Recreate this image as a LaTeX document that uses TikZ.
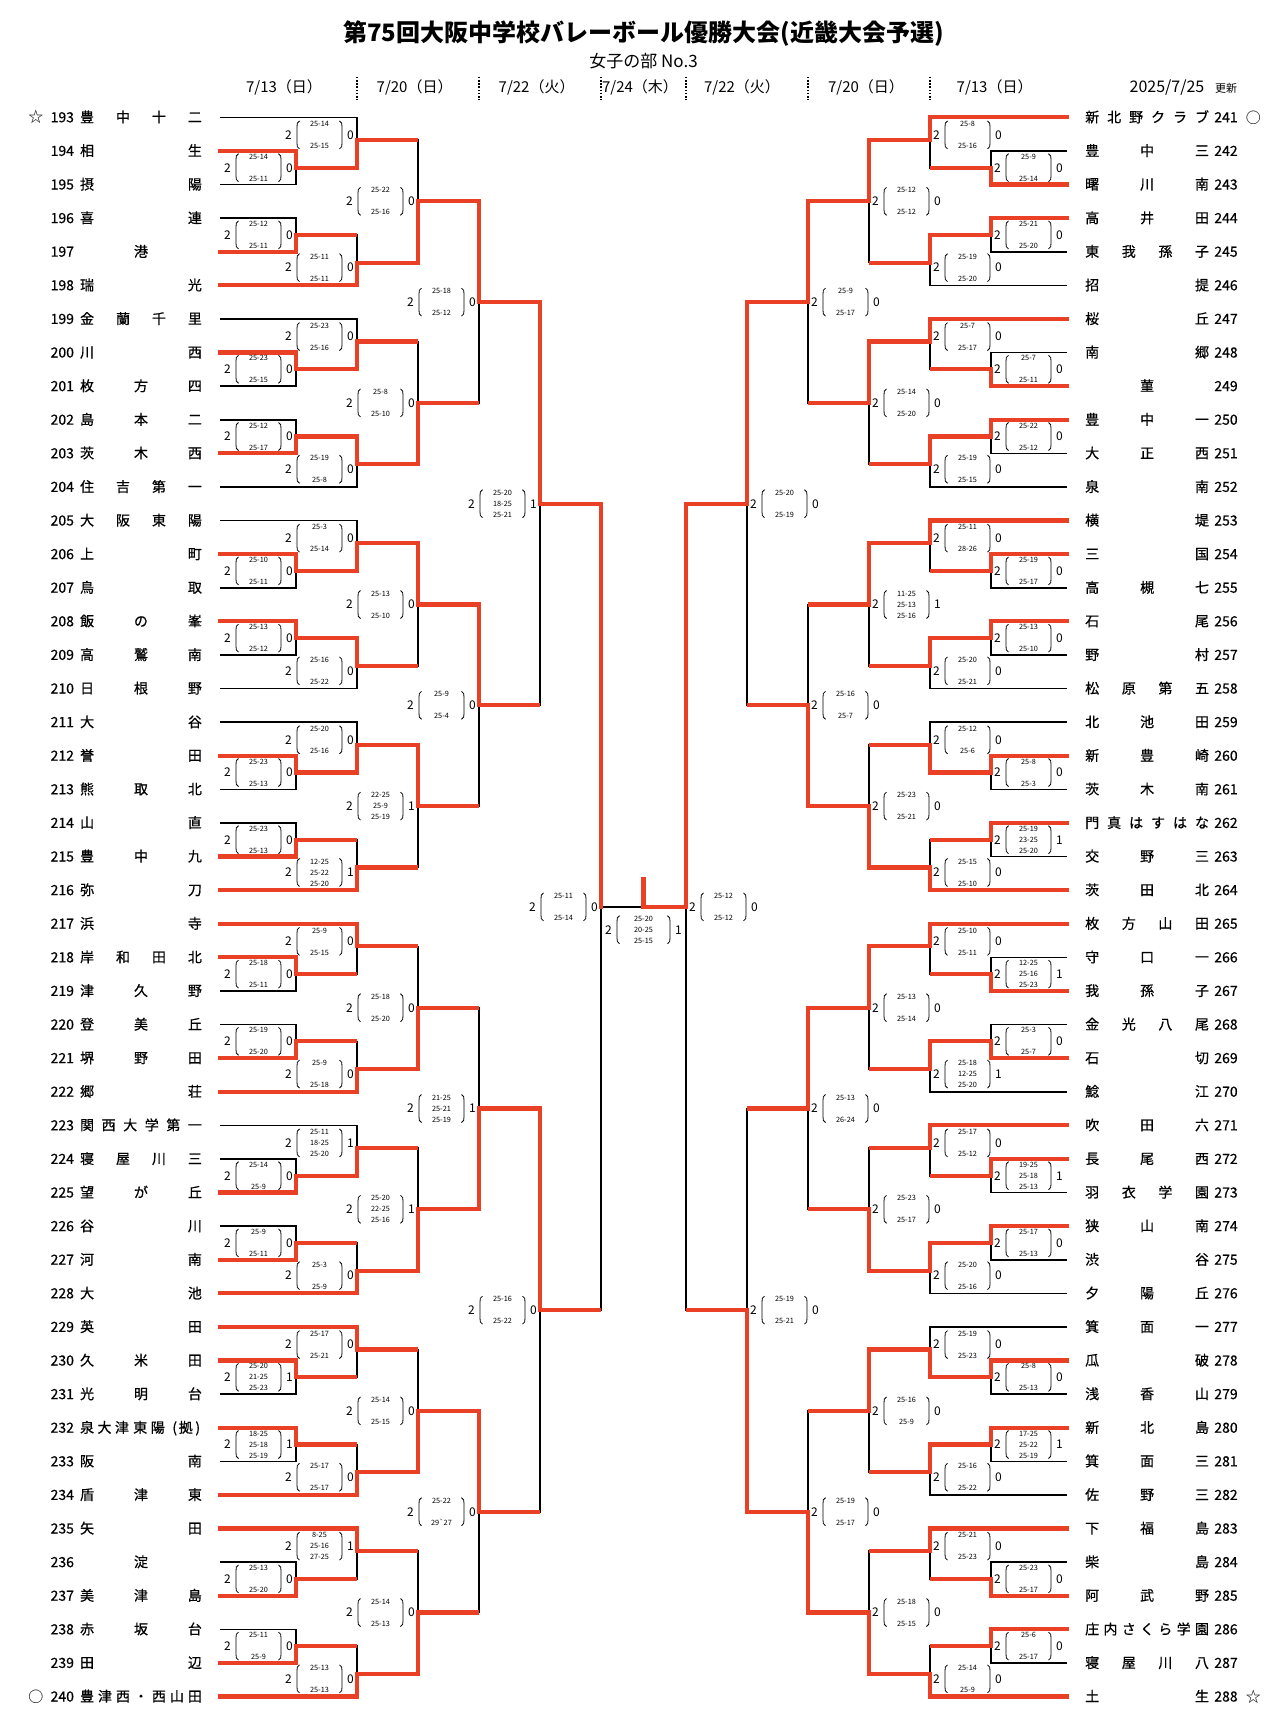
\documentclass[tikz,border=0pt]{standalone}
\usepackage{fontspec}
\setmainfont{Noto Sans CJK JP}
\newfontfamily\nmfont{Noto Sans CJK JP}[FakeBold=0.6]
\definecolor{myred}{RGB}{234,64,38}
\pgfdeclarelayer{bg}
\pgfsetlayers{bg,main}
\newcount\nodeno
\tikzset{
 blk/.style={draw=black, line width=1.6pt},
 redl/.style={draw=myred, line width=4.2pt},
 redw/.style={draw=myred, line width=4.2pt, line cap=rect},
 paren/.style={draw=black, line width=0.8pt},
 nm/.style={inner sep=0pt, font=\nmfont\fontsize{14}{14}\selectfont, text height=11pt, text depth=1pt},
 setn/.style={inner sep=0pt, font=\fontsize{12}{12}\selectfont, text height=8.6pt, text depth=0pt},
 scr/.style={inner sep=0pt, font=\fontsize{7.3}{7.3}\selectfont, text height=5.3pt, text depth=0pt},
 dt/.style={inner sep=0pt, font=\fontsize{15}{15}\selectfont},
 mk/.style={inner sep=0pt, font=\fontsize{15}{15}\selectfont},
 sepl/.style={draw=black, line width=1.6pt, dash pattern=on 1.6pt off 1.6pt},
}
\newcommand\setd[2]{\edef#1{\ifcase#2 423.5\or 347.5\or 286.5\or 225.5\or 164.5\or 103.5\or 42.5\fi}}
% match bracket: side, level, rowA, levelA, rowB, levelB, rowOut, winner
\newcommand\mbr[8]{%
  \setd\dm{#2}\setd\da{#4}\setd\db{#6}%
  \pgfmathsetmacro\xm{643.5-(#1)*\dm}%
  \pgfmathsetmacro\xa{643.5-(#1)*\da}%
  \pgfmathsetmacro\xb{643.5-(#1)*\db}%
  \pgfmathsetmacro\ya{117.3+33.6*(#3)}%
  \pgfmathsetmacro\yb{117.3+33.6*(#5)}%
  \pgfmathsetmacro\yo{117.3+33.6*(#7)}%
  \begin{pgfonlayer}{bg}\draw[blk] (\xa,\ya) -- (\xm,\ya) -- (\xm,\yb) -- (\xb,\yb);\end{pgfonlayer}%
  \ifnum#4>0 \draw[redl] (\xa,\ya) -- (\xm,\ya);\fi
  \ifnum#6>0 \draw[redl] (\xb,\yb) -- (\xm,\yb);\fi
  \ifnum#8=1 \draw[redw] (\xa,\ya) -- (\xm,\ya) -- (\xm,\yo);\else\draw[redw] (\xb,\yb) -- (\xm,\yb) -- (\xm,\yo);\fi
}
% six-team group: side, group index, winners a b c d e
\newcommand\grp[7]{%
  \pgfmathsetmacro\rz{6*#2}%
  \mbr{#1}{1}{\rz+1}{0}{\rz+2}{0}{\rz+1.5}{#3}%
  \mbr{#1}{1}{\rz+3}{0}{\rz+4}{0}{\rz+3.5}{#4}%
  \mbr{#1}{2}{\rz}{0}{\rz+1.5}{1}{\rz+0.675}{#5}%
  \mbr{#1}{2}{\rz+3.5}{1}{\rz+5}{0}{\rz+4.325}{#6}%
  \mbr{#1}{3}{\rz+0.675}{2}{\rz+4.325}{2}{\rz+2.5}{#7}%
}
% score label: side, level, row, line1, line2, line3, loser sets
\newcommand\lab[7]{%
  \setd\dm{#2}%
  \pgfmathsetmacro\xt{643.5-(#1)*(\dm+37.5)}%
  \pgfmathsetmacro\yy{117.3+33.6*(#3)}%
  \global\advance\nodeno by 1
  \node[setn] (w\the\nodeno) at (\xt-31,\yy) {2};
  \node[setn] (l\the\nodeno) at (\xt+31,\yy) {#7};
  \draw[paren] (\xt-20,\yy-14) .. controls (\xt-22.5,\yy-13) and (\xt-22.5,\yy-11) .. (\xt-22.5,\yy-8) -- (\xt-22.5,\yy+8) .. controls (\xt-22.5,\yy+11) and (\xt-22.5,\yy+13) .. (\xt-20,\yy+14);
  \draw[paren] (\xt+20,\yy-14) .. controls (\xt+22.5,\yy-13) and (\xt+22.5,\yy-11) .. (\xt+22.5,\yy-8) -- (\xt+22.5,\yy+8) .. controls (\xt+22.5,\yy+11) and (\xt+22.5,\yy+13) .. (\xt+20,\yy+14);
  \node[scr] (s\the\nodeno a) at (\xt,\yy-11) {#4};
  \if\relax\detokenize{#5}\relax\else\node[scr] (s\the\nodeno b) at (\xt,\yy) {#5};\fi
  \node[scr] (s\the\nodeno c) at (\xt,\yy+11) {#6};
}
\newcommand\glab[7]{%
  \ifcase#3\or\def\lvlx{1}\def\offx{1.5}\or\def\lvlx{1}\def\offx{3.5}\or\def\lvlx{2}\def\offx{0.525}\or\def\lvlx{2}\def\offx{4.475}\or\def\lvlx{3}\def\offx{2.5}\fi
  \lab{#1}{\lvlx}{6*#2+\offx}{#4}{#5}{#6}{#7}}
% distributed team name: x first, x last, row, count, chars
\newcommand\tname[5]{%
  \pgfmathsetmacro\ty{117.3+33.6*(#3)}%
  \foreach \chr [count=\i] in {#5} {%
    \ifnum#4=1 \pgfmathsetmacro\tx{(#1+#2)/2}\else\pgfmathsetmacro\tx{#1+(\i-1)*(#2-#1)/(#4-1)}\fi
    \node[nm] (t#3-\i) at (\tx,\ty) {\chr};
  }}
\newcommand\teamL[3]{%
  \pgfmathsetmacro\ty{117.3+33.6*(#1-193)}%
  \node[nm] (n#1) at (62.3,\ty) {#1};
  \tname{87.1}{194.9}{#1-193}{#2}{#3}}
\newcommand\teamR[3]{%
  \pgfmathsetmacro\ty{117.3+33.6*(#1-241)}%
  \node[nm] (n#1) at (1226,\ty) {#1};
  \tname{1092.2}{1202}{#1-241}{#2}{#3}}
\begin{document}
\begin{tikzpicture}[x=1pt,y=-1pt]
\begin{pgfonlayer}{bg}\fill[white] (0,0) rectangle (1279,1724);\end{pgfonlayer}
\useasboundingbox (0,0) rectangle (1279,1724);
% heading
\node[inner sep=0pt, font=\fontsize{24}{24}\selectfont\bfseries] (title) at (643.5,33.3) {第75回大阪中学校バレーボール優勝大会(近畿大会予選)};
\node[inner sep=0pt, font=\fontsize{17}{17}\selectfont] (sub) at (643.5,61) {女子の部 No.3};
\node[dt] (d1) at (284,87.5) {7/13（日）};
\node[dt] (d2) at (414.6,87.5) {7/20（日）};
\node[dt] (d3) at (536.6,87.5) {7/22（火）};
\node[dt] (d4) at (640,87.5) {7/24（木）};
\node[dt] (d5) at (742,87.5) {7/22（火）};
\node[dt] (d6) at (866,87.5) {7/20（日）};
\node[dt] (d7) at (994.6,87.5) {7/13（日）};
\node[inner sep=0pt, font=\fontsize{16}{16}\selectfont] (upd) at (1167,87.5) {2025/7/25};
\node[inner sep=0pt, font=\fontsize{11}{11}\selectfont] (upd2) at (1226,88) {更新};
\foreach \sx in {357,479,601,686,808,930} {\draw[sepl] (\sx,76.7) -- (\sx,100);}
% marks
\node[mk] (mk1) at (35.8,117.3) {☆};
\node[mk] (mk2) at (35.8,1696.5) {○};
\node[mk] (mk3) at (1253.4,117.3) {○};
\node[mk] (mk4) at (1253.4,1696.5) {☆};
% left teams
\teamL{193}{4}{豊,中,十,二}
\teamL{194}{2}{相,生}
\teamL{195}{2}{摂,陽}
\teamL{196}{2}{喜,連}
\teamL{197}{1}{港}
\teamL{198}{2}{瑞,光}
\teamL{199}{4}{金,蘭,千,里}
\teamL{200}{2}{川,西}
\teamL{201}{3}{枚,方,四}
\teamL{202}{3}{島,本,二}
\teamL{203}{3}{茨,木,西}
\teamL{204}{4}{住,吉,第,一}
\teamL{205}{4}{大,阪,東,陽}
\teamL{206}{2}{上,町}
\teamL{207}{2}{鳥,取}
\teamL{208}{3}{飯,の,峯}
\teamL{209}{3}{高,鷲,南}
\teamL{210}{3}{日,根,野}
\teamL{211}{2}{大,谷}
\teamL{212}{2}{誉,田}
\teamL{213}{3}{熊,取,北}
\teamL{214}{2}{山,直}
\teamL{215}{3}{豊,中,九}
\teamL{216}{2}{弥,刀}
\teamL{217}{2}{浜,寺}
\teamL{218}{4}{岸,和,田,北}
\teamL{219}{3}{津,久,野}
\teamL{220}{3}{登,美,丘}
\teamL{221}{3}{堺,野,田}
\teamL{222}{2}{郷,荘}
\teamL{223}{6}{関,西,大,学,第,一}
\teamL{224}{4}{寝,屋,川,三}
\teamL{225}{3}{望,が,丘}
\teamL{226}{2}{谷,川}
\teamL{227}{2}{河,南}
\teamL{228}{2}{大,池}
\teamL{229}{2}{英,田}
\teamL{230}{3}{久,米,田}
\teamL{231}{3}{光,明,台}
\node[nm] (n232) at (62.3,1427.7) {232};
\node[nm] (t232a) at (87.1,1427.7) {泉};
\node[nm] (t232b) at (104.5,1427.7) {大};
\node[nm] (t232c) at (122,1427.7) {津};
\node[nm] (t232d) at (140.2,1427.7) {東};
\node[nm] (t232e) at (157.8,1427.7) {陽};
\node[nm] (t232f) at (174.7,1427.7) {(};
\node[nm] (t232g) at (185.8,1427.7) {拠};
\node[nm] (t232h) at (197.8,1427.7) {)};
\teamL{233}{2}{阪,南}
\teamL{234}{3}{盾,津,東}
\teamL{235}{2}{矢,田}
\teamL{236}{1}{淀}
\teamL{237}{3}{美,津,島}
\teamL{238}{3}{赤,坂,台}
\teamL{239}{2}{田,辺}
\teamL{240}{7}{豊,津,西,・,西,山,田}
% right teams
\teamR{241}{6}{新,北,野,ク,ラ,ブ}
\teamR{242}{3}{豊,中,三}
\teamR{243}{3}{曙,川,南}
\teamR{244}{3}{高,井,田}
\teamR{245}{4}{東,我,孫,子}
\teamR{246}{2}{招,提}
\teamR{247}{2}{桜,丘}
\teamR{248}{2}{南,郷}
\teamR{249}{1}{菫}
\teamR{250}{3}{豊,中,一}
\teamR{251}{3}{大,正,西}
\teamR{252}{2}{泉,南}
\teamR{253}{2}{横,堤}
\teamR{254}{2}{三,国}
\teamR{255}{3}{高,槻,七}
\teamR{256}{2}{石,尾}
\teamR{257}{2}{野,村}
\teamR{258}{4}{松,原,第,五}
\teamR{259}{3}{北,池,田}
\teamR{260}{3}{新,豊,崎}
\teamR{261}{3}{茨,木,南}
\teamR{262}{6}{門,真,は,す,は,な}
\teamR{263}{3}{交,野,三}
\teamR{264}{3}{茨,田,北}
\teamR{265}{4}{枚,方,山,田}
\teamR{266}{3}{守,口,一}
\teamR{267}{3}{我,孫,子}
\teamR{268}{4}{金,光,八,尾}
\teamR{269}{2}{石,切}
\teamR{270}{2}{鯰,江}
\teamR{271}{3}{吹,田,六}
\teamR{272}{3}{長,尾,西}
\teamR{273}{4}{羽,衣,学,園}
\teamR{274}{3}{狭,山,南}
\teamR{275}{2}{渋,谷}
\teamR{276}{3}{夕,陽,丘}
\teamR{277}{3}{箕,面,一}
\teamR{278}{2}{瓜,破}
\teamR{279}{3}{浅,香,山}
\teamR{280}{3}{新,北,島}
\teamR{281}{3}{箕,面,三}
\teamR{282}{3}{佐,野,三}
\teamR{283}{3}{下,福,島}
\teamR{284}{2}{柴,島}
\teamR{285}{3}{阿,武,野}
\teamR{286}{7}{庄,内,さ,く,ら,学,園}
\teamR{287}{4}{寝,屋,川,八}
\teamR{288}{2}{土,生}
% left bracket
\grp{1}{0}{1}{2}{2}{2}{2}
\grp{1}{1}{1}{2}{2}{1}{2}
\grp{1}{2}{1}{1}{2}{1}{1}
\grp{1}{3}{1}{2}{2}{2}{1}
\grp{1}{4}{1}{2}{1}{2}{2}
\grp{1}{5}{2}{2}{2}{2}{2}
\grp{1}{6}{1}{1}{1}{2}{2}
\grp{1}{7}{2}{2}{1}{2}{2}
\mbr{1}{4}{2.5}{3}{8.5}{3}{5.5}{1}
\mbr{1}{4}{14.5}{3}{20.5}{3}{17.5}{1}
\mbr{1}{4}{26.5}{3}{32.5}{3}{29.5}{2}
\mbr{1}{4}{38.5}{3}{44.5}{3}{41.5}{1}
\mbr{1}{5}{5.5}{4}{17.5}{4}{11.5}{1}
\mbr{1}{5}{29.5}{4}{41.5}{4}{35.5}{1}
\mbr{1}{6}{11.5}{5}{35.5}{5}{23.5}{1}
% right bracket
\grp{-1}{0}{2}{1}{1}{1}{1}
\grp{-1}{1}{2}{1}{1}{1}{1}
\grp{-1}{2}{1}{1}{1}{1}{1}
\grp{-1}{3}{1}{1}{2}{2}{2}
\grp{-1}{4}{2}{2}{1}{1}{1}
\grp{-1}{5}{1}{1}{1}{1}{2}
\grp{-1}{6}{1}{1}{2}{1}{1}
\grp{-1}{7}{2}{1}{1}{2}{2}
\mbr{-1}{4}{2.5}{3}{8.5}{3}{5.5}{1}
\mbr{-1}{4}{14.5}{3}{20.5}{3}{17.5}{2}
\mbr{-1}{4}{26.5}{3}{32.5}{3}{29.5}{1}
\mbr{-1}{4}{38.5}{3}{44.5}{3}{41.5}{2}
\mbr{-1}{5}{5.5}{4}{17.5}{4}{11.5}{1}
\mbr{-1}{5}{29.5}{4}{41.5}{4}{35.5}{2}
\mbr{-1}{6}{11.5}{5}{35.5}{5}{23.5}{1}
% final
\pgfmathsetmacro\yf{117.3+33.6*23.5}
\begin{pgfonlayer}{bg}\draw[blk] (601,\yf) -- (686,\yf);\end{pgfonlayer}
\draw[redw] (686,\yf) -- (643.5,\yf) -- (643.5,\yf-28);
\node[setn] (fw) at (608.5,929.7) {2};
\node[setn] (fl) at (678.5,929.7) {1};
\draw[paren] (619.5,915.7) .. controls (617,916.7) and (617,918.7) .. (617,921.7) -- (617,937.7) .. controls (617,940.7) and (617,942.7) .. (619.5,943.7);
\draw[paren] (667.5,915.7) .. controls (670,916.7) and (670,918.7) .. (670,921.7) -- (670,937.7) .. controls (670,940.7) and (670,942.7) .. (667.5,943.7);
\node[scr] (fs1) at (643.5,918.4) {25-20};
\node[scr] (fs2) at (643.5,929.7) {20-25};
\node[scr] (fs3) at (643.5,941) {25-15};
% left labels
\glab{1}{0}{1}{25-14}{}{25-11}{0}
\glab{1}{0}{2}{25-12}{}{25-11}{0}
\glab{1}{0}{3}{25-14}{}{25-15}{0}
\glab{1}{0}{4}{25-11}{}{25-11}{0}
\glab{1}{0}{5}{25-22}{}{25-16}{0}
\glab{1}{1}{1}{25-23}{}{25-15}{0}
\glab{1}{1}{2}{25-12}{}{25-17}{0}
\glab{1}{1}{3}{25-23}{}{25-16}{0}
\glab{1}{1}{4}{25-19}{}{25-8}{0}
\glab{1}{1}{5}{25-8}{}{25-10}{0}
\glab{1}{2}{1}{25-10}{}{25-11}{0}
\glab{1}{2}{2}{25-13}{}{25-12}{0}
\glab{1}{2}{3}{25-3}{}{25-14}{0}
\glab{1}{2}{4}{25-16}{}{25-22}{0}
\glab{1}{2}{5}{25-13}{}{25-10}{0}
\glab{1}{3}{1}{25-23}{}{25-13}{0}
\glab{1}{3}{2}{25-23}{}{25-13}{0}
\glab{1}{3}{3}{25-20}{}{25-16}{0}
\glab{1}{3}{4}{12-25}{25-22}{25-20}{1}
\glab{1}{3}{5}{22-25}{25-9}{25-19}{1}
\glab{1}{4}{1}{25-18}{}{25-11}{0}
\glab{1}{4}{2}{25-19}{}{25-20}{0}
\glab{1}{4}{3}{25-9}{}{25-15}{0}
\glab{1}{4}{4}{25-9}{}{25-18}{0}
\glab{1}{4}{5}{25-18}{}{25-20}{0}
\glab{1}{5}{1}{25-14}{}{25-9}{0}
\glab{1}{5}{2}{25-9}{}{25-11}{0}
\glab{1}{5}{3}{25-11}{18-25}{25-20}{1}
\glab{1}{5}{4}{25-3}{}{25-9}{0}
\glab{1}{5}{5}{25-20}{22-25}{25-16}{1}
\glab{1}{6}{1}{25-20}{21-25}{25-23}{1}
\glab{1}{6}{2}{18-25}{25-18}{25-19}{1}
\glab{1}{6}{3}{25-17}{}{25-21}{0}
\glab{1}{6}{4}{25-17}{}{25-17}{0}
\glab{1}{6}{5}{25-14}{}{25-15}{0}
\glab{1}{7}{1}{25-13}{}{25-20}{0}
\glab{1}{7}{2}{25-11}{}{25-9}{0}
\glab{1}{7}{3}{8-25}{25-16}{27-25}{1}
\glab{1}{7}{4}{25-13}{}{25-13}{0}
\glab{1}{7}{5}{25-14}{}{25-13}{0}
\lab{1}{4}{5.5}{25-18}{}{25-12}{0}
\lab{1}{4}{17.5}{25-9}{}{25-4}{0}
\lab{1}{4}{29.5}{21-25}{25-21}{25-19}{1}
\lab{1}{4}{41.5}{25-22}{}{29\textasciigrave27}{0}
\lab{1}{5}{11.5}{25-20}{18-25}{25-21}{1}
\lab{1}{5}{35.5}{25-16}{}{25-22}{0}
\lab{1}{6}{23.5}{25-11}{}{25-14}{0}
% right labels
\glab{-1}{0}{1}{25-9}{}{25-14}{0}
\glab{-1}{0}{2}{25-21}{}{25-20}{0}
\glab{-1}{0}{3}{25-8}{}{25-16}{0}
\glab{-1}{0}{4}{25-19}{}{25-20}{0}
\glab{-1}{0}{5}{25-12}{}{25-12}{0}
\glab{-1}{1}{1}{25-7}{}{25-11}{0}
\glab{-1}{1}{2}{25-22}{}{25-12}{0}
\glab{-1}{1}{3}{25-7}{}{25-17}{0}
\glab{-1}{1}{4}{25-19}{}{25-15}{0}
\glab{-1}{1}{5}{25-14}{}{25-20}{0}
\glab{-1}{2}{1}{25-19}{}{25-17}{0}
\glab{-1}{2}{2}{25-13}{}{25-10}{0}
\glab{-1}{2}{3}{25-11}{}{28-26}{0}
\glab{-1}{2}{4}{25-20}{}{25-21}{0}
\glab{-1}{2}{5}{11-25}{25-13}{25-16}{1}
\glab{-1}{3}{1}{25-8}{}{25-3}{0}
\glab{-1}{3}{2}{25-19}{23-25}{25-20}{1}
\glab{-1}{3}{3}{25-12}{}{25-6}{0}
\glab{-1}{3}{4}{25-15}{}{25-10}{0}
\glab{-1}{3}{5}{25-23}{}{25-21}{0}
\glab{-1}{4}{1}{12-25}{25-16}{25-23}{1}
\glab{-1}{4}{2}{25-3}{}{25-7}{0}
\glab{-1}{4}{3}{25-10}{}{25-11}{0}
\glab{-1}{4}{4}{25-18}{12-25}{25-20}{1}
\glab{-1}{4}{5}{25-13}{}{25-14}{0}
\glab{-1}{5}{1}{19-25}{25-18}{25-13}{1}
\glab{-1}{5}{2}{25-17}{}{25-13}{0}
\glab{-1}{5}{3}{25-17}{}{25-12}{0}
\glab{-1}{5}{4}{25-20}{}{25-16}{0}
\glab{-1}{5}{5}{25-23}{}{25-17}{0}
\glab{-1}{6}{1}{25-8}{}{25-13}{0}
\glab{-1}{6}{2}{17-25}{25-22}{25-19}{1}
\glab{-1}{6}{3}{25-19}{}{25-23}{0}
\glab{-1}{6}{4}{25-16}{}{25-22}{0}
\glab{-1}{6}{5}{25-16}{}{25-9}{0}
\glab{-1}{7}{1}{25-23}{}{25-17}{0}
\glab{-1}{7}{2}{25-6}{}{25-17}{0}
\glab{-1}{7}{3}{25-21}{}{25-23}{0}
\glab{-1}{7}{4}{25-14}{}{25-9}{0}
\glab{-1}{7}{5}{25-18}{}{25-15}{0}
\lab{-1}{4}{5.5}{25-9}{}{25-17}{0}
\lab{-1}{4}{17.5}{25-16}{}{25-7}{0}
\lab{-1}{4}{29.5}{25-13}{}{26-24}{0}
\lab{-1}{4}{41.5}{25-19}{}{25-17}{0}
\lab{-1}{5}{11.5}{25-20}{}{25-19}{0}
\lab{-1}{5}{35.5}{25-19}{}{25-21}{0}
\lab{-1}{6}{23.5}{25-12}{}{25-12}{0}
\end{tikzpicture}
\end{document}
